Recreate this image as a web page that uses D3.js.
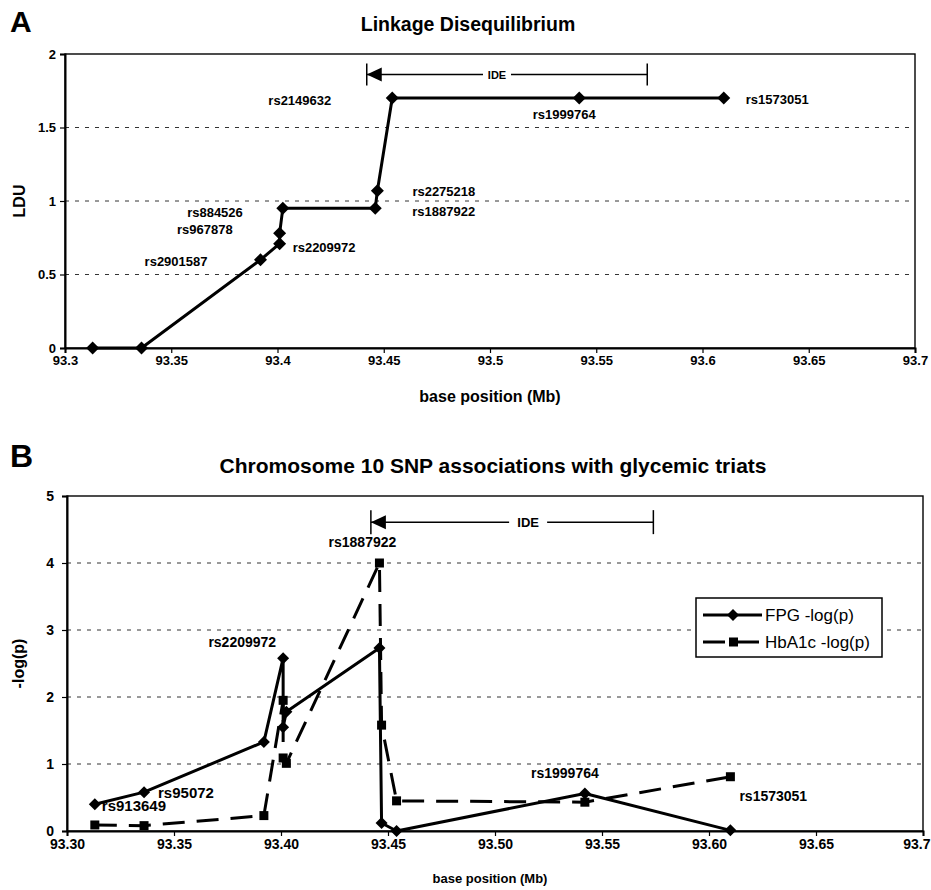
<!DOCTYPE html>
<html>
<head>
<meta charset="utf-8">
<script src="https://cdn.jsdelivr.net/npm/d3@7"></script>
<style>
  body { margin: 0; background: #fff; }
  svg { display: block; font-family: "Liberation Sans", Arial, sans-serif; }
</style>
</head>
<body>
<script>
// SNPs ordered by position
const snps = ["rs913649", "rs95072", "rs2901587", "rs2209972", "rs967878", "rs884526",
  "rs1887922", "rs2275218", "rs2149632", "rs1999764", "rs1573051"];
const position = [93.313, 93.336, 93.392, 93.401, 93.401, 93.4025,
  93.446, 93.447, 93.454, 93.542, 93.610];
const ldu = [0, 0, 0.60, 0.71, 0.78, 0.95, 0.95, 1.07, 1.70, 1.70, 1.70];
const fpg = [0.40, 0.58, 1.33, 2.58, 1.55, 1.78, 2.73, 0.12, 0.00, 0.56, 0.01];
const hba1c = [0.09, 0.08, 0.23, 1.95, 1.09, 1.01, 4.00, 1.58, 0.45, 0.43, 0.81];

const posTicks = [93.3, 93.35, 93.4, 93.45, 93.5, 93.55, 93.6, 93.65, 93.7];
const lduTicks = [0, 0.5, 1, 1.5, 2];
const logpTicks = [0, 1, 2, 3, 4, 5];
const ideSpan = [93.442, 93.574];
const seriesNames = ["FPG -log(p)", "HbA1c -log(p)"];

const [width, height] = [931, 890];
const svg = d3.select("body").append("svg")
  .attr("width", width)
  .attr("height", height);

const diamond = r => `M0,${-r}L${r},0L0,${r}L${-r},0Z`;

// shared frame: box, dashed grid, axes
function drawFrame(g, x, y, yTicks, o) {
  const [x0, x1] = x.range();
  const [y0, y1] = y.range();

  g.selectAll(".grid")
    .data(yTicks.slice(1, -1))
    .enter().append("line")
      .attr("x1", x0).attr("x2", x1)
      .attr("y1", d => y(d)).attr("y2", d => y(d))
      .attr("stroke", "#333").attr("stroke-width", 1)
      .attr("stroke-dasharray", "4,6");

  g.append("rect")
    .attr("x", x0).attr("y", y1)
    .attr("width", x1 - x0).attr("height", y0 - y1)
    .attr("fill", "none").attr("stroke", "#000").attr("stroke-width", 1.4);

  const xAxis = g.append("g")
    .attr("transform", `translate(0,${y0})`)
    .call(d3.axisBottom(x).tickValues(posTicks).tickSize(5).tickPadding(3)
      .tickFormat(o.xFormat));
  const yAxis = g.append("g")
    .attr("transform", `translate(${x0},0)`)
    .call(d3.axisLeft(y).tickValues(yTicks).tickSize(5).tickPadding(o.yPad)
      .tickFormat(d3.format("")));

  [xAxis, yAxis].forEach(a => {
    a.select(".domain").attr("stroke-width", 2);
    a.selectAll(".tick line").attr("stroke-width", 1.2);
    a.selectAll("text")
      .attr("font-family", "Liberation Sans, Arial, sans-serif")
      .attr("font-weight", "bold")
      .attr("font-size", o.tickSize + "px")
      .attr("fill", "#000");
  });
  return xAxis;
}

// IDE gene span marker
function drawIDE(g, x, y, yVal, o) {
  const [a, b] = ideSpan.map(x);
  const yy = y(yVal);
  const mid = (a + b) / 2 + o.textShift;
  const gap = o.gap;
  g.append("line").attr("x1", a).attr("x2", mid - gap).attr("y1", yy).attr("y2", yy)
    .attr("stroke", "#000").attr("stroke-width", 1.5);
  g.append("line").attr("x1", mid + gap).attr("x2", b).attr("y1", yy).attr("y2", yy)
    .attr("stroke", "#000").attr("stroke-width", 1.5);
  [a, b].forEach(px => g.append("line")
    .attr("x1", px).attr("x2", px)
    .attr("y1", yy - o.tick).attr("y2", yy + o.tick)
    .attr("stroke", "#000").attr("stroke-width", 1.5));
  g.append("path")
    .attr("d", `M${a},${yy}L${a + 15},${yy - 7}L${a + 15},${yy + 7}Z`)
    .attr("fill", "#000");
  g.append("text")
    .attr("x", mid).attr("y", yy + o.fontSize * 0.36)
    .attr("text-anchor", "middle")
    .attr("font-weight", "bold").attr("font-size", o.fontSize + "px")
    .text("IDE");
}

function drawLabels(g, x, y, values, specs, fontSize) {
  g.selectAll(".snp-label")
    .data(specs)
    .enter().append("text")
      .attr("x", d => x(position[d.i]) + d.dx)
      .attr("y", d => y(values[d.i]) + d.dy)
      .attr("text-anchor", d => d.anchor)
      .attr("font-weight", "bold")
      .attr("font-size", d => (d.size || fontSize) + "px")
      .text(d => snps[d.i]);
}

/* ---------- Panel A: linkage disequilibrium ---------- */
const xA = d3.scaleLinear().domain([93.3, 93.7]).range([65, 915]);
const yA = d3.scaleLinear().domain([0, 2]).range([348, 54]);
const gA = svg.append("g");

svg.append("text").attr("x", 10).attr("y", 32)
  .attr("font-weight", "bold").attr("font-size", "30px").text("A");
svg.append("text").attr("x", 468).attr("y", 31).attr("text-anchor", "middle")
  .attr("font-weight", "bold").attr("font-size", "19.5px").text("Linkage Disequilibrium");

drawFrame(gA, xA, yA, lduTicks, { xFormat: d3.format(""), tickSize: 13, yPad: 4 });

gA.append("text")
  .attr("transform", `translate(25,${(yA(0) + yA(2)) / 2}) rotate(-90)`)
  .attr("text-anchor", "middle")
  .attr("font-weight", "bold").attr("font-size", "16px").text("LDU");
gA.append("text").attr("x", 490).attr("y", 402).attr("text-anchor", "middle")
  .attr("font-weight", "bold").attr("font-size", "16px").text("base position (Mb)");

drawIDE(gA, xA, yA, 1.86, { textShift: -10, gap: 14, tick: 11, fontSize: 11 });

const lineA = d3.line().x((d, i) => xA(position[i])).y(d => yA(d));
gA.append("path").datum(ldu)
  .attr("d", lineA)
  .attr("fill", "none").attr("stroke", "#000").attr("stroke-width", 3)
  .attr("stroke-linejoin", "round");
gA.selectAll(".pt")
  .data(ldu)
  .enter().append("path")
    .attr("transform", (d, i) => `translate(${xA(position[i])},${yA(d)})`)
    .attr("d", diamond(6.5))
    .attr("fill", "#000");

drawLabels(gA, xA, yA, ldu, [
  { i: 2, dx: -53, dy: 6, anchor: "end" },
  { i: 3, dx: 13, dy: 8, anchor: "start" },
  { i: 4, dx: -47, dy: 1, anchor: "end" },
  { i: 5, dx: -40, dy: 9, anchor: "end" },
  { i: 6, dx: 37, dy: 8, anchor: "start" },
  { i: 7, dx: 35, dy: 5, anchor: "start" },
  { i: 8, dx: -61, dy: 7, anchor: "end" },
  { i: 9, dx: -15, dy: 21, anchor: "middle" },
  { i: 10, dx: 22, dy: 6, anchor: "start" }
], 13);

/* ---------- Panel B: SNP associations ---------- */
const xB = d3.scaleLinear().domain([93.3, 93.7]).range([67, 923]);
const yB = d3.scaleLinear().domain([0, 5]).range([831, 496]);
const gB = svg.append("g");

svg.append("text").attr("x", 10).attr("y", 467)
  .attr("font-weight", "bold").attr("font-size", "32px").text("B");
svg.append("text").attr("x", 493).attr("y", 473).attr("text-anchor", "middle")
  .attr("font-weight", "bold").attr("font-size", "21px")
  .text("Chromosome 10 SNP associations with glycemic triats");

const fmtB = d => d === 93.7 ? "93.7" : d3.format(".2f")(d);
const xAxisB = drawFrame(gB, xB, yB, logpTicks, { xFormat: fmtB, tickSize: 14, yPad: 8 });
// last label sits against the page edge, as in the original
xAxisB.selectAll(".tick text").filter(d => d === 93.7)
  .attr("text-anchor", "end").attr("x", 7);

gB.append("text")
  .attr("transform", `translate(24,${(yB(0) + yB(5)) / 2}) rotate(-90)`)
  .attr("text-anchor", "middle")
  .attr("font-weight", "bold").attr("font-size", "16px").text("-log(p)");
gB.append("text").attr("x", 490).attr("y", 883).attr("text-anchor", "middle")
  .attr("font-weight", "bold").attr("font-size", "13px").text("base position (Mb)");

drawIDE(gB, xB, yB, 4.61, { textShift: 16, gap: 19, tick: 12, fontSize: 13 });

const lineB = d3.line().x((d, i) => xB(position[i])).y(d => yB(d));
gB.append("path").datum(hba1c)
  .attr("d", lineB)
  .attr("fill", "none").attr("stroke", "#000").attr("stroke-width", 3)
  .attr("stroke-dasharray", "22,12");
gB.append("path").datum(fpg)
  .attr("d", lineB)
  .attr("fill", "none").attr("stroke", "#000").attr("stroke-width", 3)
  .attr("stroke-linejoin", "round");
gB.selectAll(".sq")
  .data(hba1c)
  .enter().append("rect")
    .attr("x", (d, i) => xB(position[i]) - 4.5)
    .attr("y", d => yB(d) - 4.5)
    .attr("width", 9).attr("height", 9)
    .attr("fill", "#000");
gB.selectAll(".dm")
  .data(fpg)
  .enter().append("path")
    .attr("transform", (d, i) => `translate(${xB(position[i])},${yB(d)})`)
    .attr("d", diamond(6))
    .attr("fill", "#000");

drawLabels(gB, xB, yB, fpg, [
  { i: 0, dx: 7, dy: 7, anchor: "start", size: 15 },
  { i: 1, dx: 14, dy: 6, anchor: "start", size: 15 },
  { i: 3, dx: -7, dy: -11, anchor: "end" },
  { i: 9, dx: -20, dy: -15, anchor: "middle" }
], 14);
drawLabels(gB, xB, yB, hba1c, [
  { i: 6, dx: -17, dy: -16, anchor: "middle" },
  { i: 10, dx: 9, dy: 24, anchor: "start" }
], 14);

// legend
const legend = gB.append("g").attr("transform", "translate(696,598)");
legend.append("rect").attr("width", 186).attr("height", 59)
  .attr("fill", "#fff").attr("stroke", "#000").attr("stroke-width", 1.5);
seriesNames.forEach((name, k) => {
  const row = legend.append("g").attr("transform", `translate(0,${17 + k * 27})`);
  row.append("line").attr("x1", 7).attr("x2", 66)
    .attr("stroke", "#000").attr("stroke-width", 3)
    .attr("stroke-dasharray", k ? "22,12" : null);
  if (k) {
    row.append("rect").attr("x", 33).attr("y", -4.5).attr("width", 9).attr("height", 9)
      .attr("fill", "#000");
  } else {
    row.append("path").attr("transform", "translate(37,0)").attr("d", diamond(6))
      .attr("fill", "#000");
  }
  row.append("text").attr("x", 69).attr("y", 6)
    .attr("font-size", "17px").text(name);
});
</script>
</body>
</html>
